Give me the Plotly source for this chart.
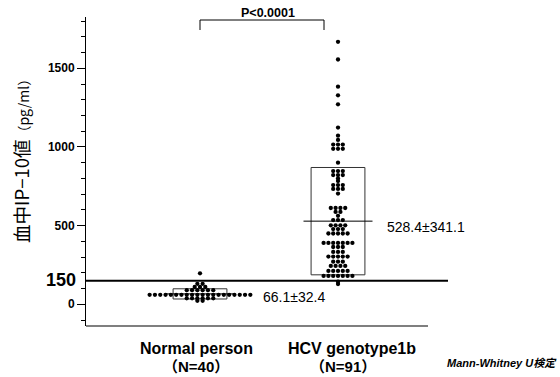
import plotly.graph_objects as go
from collections import Counter

# ---------------- data ----------------
groups = ["Normal person", "HCV genotype1b"]
n_labels = ["（N=40）", "（N=91）"]
group_x = [0, 1]
means = [66.1, 528.4]
sds = [32.4, 341.1]
stat_labels = ["66.1±32.4", "528.4±341.1"]
p_label = "P<0.0001"
threshold = 150
y_ticks = [0, 500, 1000, 1500]

normal_vals = [197,
               130, 130,
               110, 110, 110,
               90, 90, 90, 90, 90, 90,
               60, 60, 60, 60, 60, 60, 60, 60, 60, 60,
               60, 60, 60, 60, 60, 60, 60, 60, 60, 60,
               38, 38, 38, 38, 38, 38,
               22, 22]

hcv_vals = [1668, 1556, 1383, 1328, 1271,
            1123, 1072, 1045,
            1015, 1015, 1015, 988, 988, 988,
            900,
            847, 847, 847, 821, 821, 821,
            800, 783,
            758, 758, 758, 733, 733, 733,
            704,
            612, 612, 612, 612, 587, 587, 562,
            535, 535, 535,
            502, 502, 502, 502, 478, 478, 478, 450, 450, 450, 450, 450,
            390, 390, 390, 390, 390, 390, 390,
            364, 364, 364, 333, 333, 333,
            303, 303, 303, 303, 303,
            271, 271, 271,
            244, 244, 244, 244,
            212, 212, 212, 212, 212,
            180, 180, 180, 180, 180, 180, 180,
            144, 129]

# ---------------- layout helpers ----------------
W, H = 560, 377
ML, MR, MT, MB = 86, 112, 17, 51
PW, PH = W - ML - MR, H - MT - MB
XR = [-0.826, 1.797]
YR = [-138, 1826]


def px(xp):
    return (xp - ML) / PW


def py(yp):
    return (H - MB - yp) / PH


FONT = "Liberation Sans, Arial, Noto Sans CJK JP, sans-serif"
CJK = "Noto Sans CJK JP, Liberation Sans, sans-serif"


def swarm(vals, cx, spacing):
    cnt = Counter(vals)
    xs, ys = [], []
    for v, n in cnt.items():
        for i in range(n):
            xs.append(cx + (i - (n - 1) / 2) * spacing)
            ys.append(v)
    return xs, ys


fig = go.Figure()

spacings = [0.0384, 0.0348]
for vals, cx, sp in zip([normal_vals, hcv_vals], group_x, spacings):
    xs, ys = swarm(vals, cx, sp)
    fig.add_trace(go.Scatter(x=xs, y=ys, mode="markers",
                             marker=dict(size=4.3, color="black"),
                             showlegend=False, hoverinfo="skip"))

shapes = []
box_hw = 0.195
mean_hw = 0.25
for cx, m, s in zip(group_x, means, sds):
    shapes.append(dict(type="rect", xref="x", yref="y",
                       x0=cx - box_hw, x1=cx + box_hw, y0=m - s, y1=m + s,
                       line=dict(color="#333", width=1), layer="below"))
    shapes.append(dict(type="line", xref="x", yref="y",
                       x0=cx - mean_hw, x1=cx + mean_hw, y0=m, y1=m,
                       line=dict(color="black", width=1), layer="below"))

# threshold line
shapes.append(dict(type="line", xref="paper", yref="y", x0=0, x1=1,
                   y0=threshold, y1=threshold,
                   line=dict(color="black", width=2)))
# bottom baseline
shapes.append(dict(type="line", xref="paper", yref="paper", x0=0, x1=px(428),
                   y0=0, y1=0, line=dict(color="#555", width=1.5)))
# significance bracket
shapes.append(dict(type="path", xref="paper", yref="paper",
                   path=f"M {px(200)},{py(30)} L {px(200)},{py(20)} L {px(324)},{py(20)} L {px(324)},{py(30)}",
                   line=dict(color="black", width=1)))


def ann(text, x, y, size, xanchor="center", weight="normal", style="normal",
        family=FONT, angle=0):
    return dict(text=text, x=px(x), y=py(y), xref="paper", yref="paper",
                xanchor=xanchor, yanchor="middle", showarrow=False,
                textangle=angle,
                font=dict(family=family, size=size, color="black",
                          weight=weight, style=style))


annotations = [
    ann(p_label, 268, 13, 12.5, weight="bold"),
    ann(str(threshold), 78, 280, 18, xanchor="right", weight="bold"),
    ann("血中IP−10値<span style='font-size:14px'>（pg/ml）</span>", 21, 158, 18.5,
        family=CJK, angle=-90),
    ann(stat_labels[0], 261, 297, 14, xanchor="left"),
    ann(stat_labels[1], 385, 227, 14, xanchor="left"),
    ann(groups[0], 196, 348, 16, weight="bold"),
    ann(n_labels[0], 196, 366, 15, weight="bold"),
    ann(groups[1], 352, 348, 16, weight="bold"),
    ann(n_labels[1], 343, 366, 15, weight="bold"),
    ann("Mann-Whitney U検定", 445, 363, 11, xanchor="left", weight="bold",
        style="italic"),
]

fig.update_layout(
    width=W, height=H,
    margin=dict(l=ML, r=MR, t=MT, b=MB),
    paper_bgcolor="white", plot_bgcolor="white",
    shapes=shapes, annotations=annotations,
    xaxis=dict(range=XR, visible=False, showgrid=False, zeroline=False),
    yaxis=dict(range=YR, tickmode="array", tickvals=y_ticks,
               ticks="outside", ticklen=8, tickcolor="black", tickwidth=1,
               showline=True, linecolor="black", linewidth=1,
               showgrid=False, zeroline=False,
               tickfont=dict(family=FONT, size=12, color="black", weight="bold"),
               minor=dict(tickmode="linear", tick0=0, dtick=100, ticks="outside",
                          ticklen=4, tickcolor="black", showgrid=False)),
)

fig.write_html("out.html", config={"displayModeBar": False},
               post_script="document.body.style.margin='0';document.body.style.padding='0';")
